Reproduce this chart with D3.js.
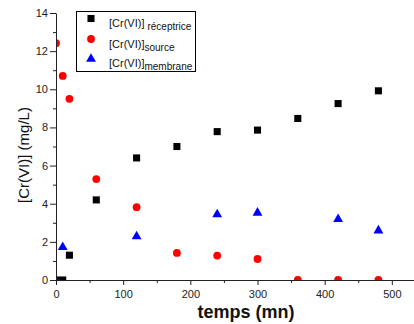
<!DOCTYPE html>
<html>
<head>
<meta charset="utf-8">
<script src="https://cdn.jsdelivr.net/npm/d3@7"></script>
<style>
  body { margin: 0; background: #fff; }
  svg { display: block; font-family: "Liberation Sans", Arial, sans-serif; }
</style>
</head>
<body>
<div id="container"></div>
<script>
var scene_width = 414, scene_height = 324

// data
var temps = [0, 10, 20, 60, 120, 180, 240, 300, 360, 420, 480]
var receptrice = [0, 0, 1.3, 4.2, 6.4, 7.0, 7.78, 7.86, 8.47, 9.25, 9.92]
var source = [12.42, 10.7, 9.5, 5.29, 3.82, 1.42, 1.28, 1.1, 0, 0, 0]
var tempsMembrane = [0, 10, 120, 240, 300, 420, 480]
var membrane = [0, 1.75, 2.31, 3.46, 3.55, 3.22, 2.62]

var xTicks = [0, 100, 200, 300, 400, 500]
var xMinor = [50, 150, 250, 350, 450]
var yTicks = [0, 2, 4, 6, 8, 10, 12, 14]
var yMinor = [1, 3, 5, 7, 9, 11, 13]

var legendNames = ['réceptrice', 'source', 'membrane']

var pLeft = 56, pRight = 414, pTop = 13, pBottom = 280

var x = d3.scaleLinear().domain([0, 533]).range([pLeft, pRight])
var y = d3.scaleLinear().domain([0, 14]).range([pBottom, pTop])

var svg = d3.select('#container').append('svg')
    .attr('width', scene_width)
    .attr('height', scene_height)

svg.append('defs').append('clipPath').attr('id', 'plot')
    .append('rect')
    .attr('x', pLeft).attr('y', pTop)
    .attr('width', pRight - pLeft).attr('height', pBottom - pTop)

var plot = svg.append('g').attr('clip-path', 'url(#plot)')

var sq = d3.symbol().type(d3.symbolSquare).size(50)
var tri = d3.symbol().type(d3.symbolTriangle).size(42)

plot.selectAll('.rec').data(temps).enter().append('path')
    .attr('d', sq)
    .attr('transform', (d, i) => 'translate(' + x(d) + ',' + y(receptrice[i]) + ')')
    .style('fill', '#000')

plot.selectAll('.src').data(temps).enter().append('circle')
    .attr('cx', d => x(d))
    .attr('cy', (d, i) => y(source[i]))
    .attr('r', 3.9)
    .style('fill', '#ff0000')

plot.selectAll('.mem').data(tempsMembrane).enter().append('path')
    .attr('d', tri)
    .attr('transform', (d, i) => 'translate(' + x(d) + ',' + (y(membrane[i]) + 0.5) + ')')
    .style('fill', '#0000ff')

// axes
function styleAxis(g) {
    g.selectAll('path.domain').attr('stroke', '#222')
    g.selectAll('line').attr('stroke', '#222')
    g.selectAll('text').attr('fill', '#222').style('font-size', '11px')
        .style('font-family', '"Liberation Sans", Arial, sans-serif')
}

var xAxis = svg.append('g').attr('transform', 'translate(0,' + pBottom + ')')
    .call(d3.axisBottom(x).tickValues(xTicks).tickSize(5).tickSizeOuter(0).tickPadding(5))
xAxis.call(styleAxis)
svg.append('g').attr('transform', 'translate(0,' + pBottom + ')')
    .call(d3.axisBottom(x).tickValues(xMinor).tickSize(3).tickFormat(''))
    .call(g => g.select('.domain').remove())
    .call(styleAxis)

var yAxis = svg.append('g').attr('transform', 'translate(' + pLeft + ',0)')
    .call(d3.axisLeft(y).tickValues(yTicks).tickSize(6).tickSizeOuter(0).tickPadding(2))
yAxis.call(styleAxis)
svg.append('g').attr('transform', 'translate(' + pLeft + ',0)')
    .call(d3.axisLeft(y).tickValues(yMinor).tickSize(3).tickFormat(''))
    .call(g => g.select('.domain').remove())
    .call(styleAxis)

// axis titles
svg.append('text')
    .attr('x', 246).attr('y', 318)
    .attr('text-anchor', 'middle')
    .style('font-size', '18px').style('font-weight', 'bold')
    .attr('fill', '#111')
    .text('temps (mn)')

svg.append('text')
    .attr('transform', 'translate(29,155) rotate(-90)')
    .attr('text-anchor', 'middle')
    .style('font-size', '15px')
    .attr('fill', '#111')
    .text('[Cr(VI)] (mg/L)')

// legend
var legend = svg.append('g')
legend.append('rect')
    .attr('x', 76.5).attr('y', 11.5).attr('width', 119).attr('height', 60)
    .style('fill', '#fff').style('stroke', '#000')

var legY = [18.5, 39, 58.5]
legend.append('path').attr('d', sq).attr('transform', 'translate(91,' + legY[0] + ')').style('fill', '#000')
legend.append('circle').attr('cx', 91).attr('cy', legY[1]).attr('r', 3.9).style('fill', '#ff0000')
legend.append('path').attr('d', tri).attr('transform', 'translate(91,' + (legY[2] + 0.5) + ')').style('fill', '#0000ff')

legendNames.forEach(function (n, i) {
    var t = legend.append('text')
        .attr('x', 109).attr('y', legY[i] + 8.5)
        .style('font-size', '11px').attr('fill', '#111')
    t.append('tspan').text('[Cr(VI)]')
    t.append('tspan').attr('dy', 3).style('font-size', '10px')
        .attr('dx', i == 0 ? 3 : 0)
        .text(n)
})
</script>
</body>
</html>
